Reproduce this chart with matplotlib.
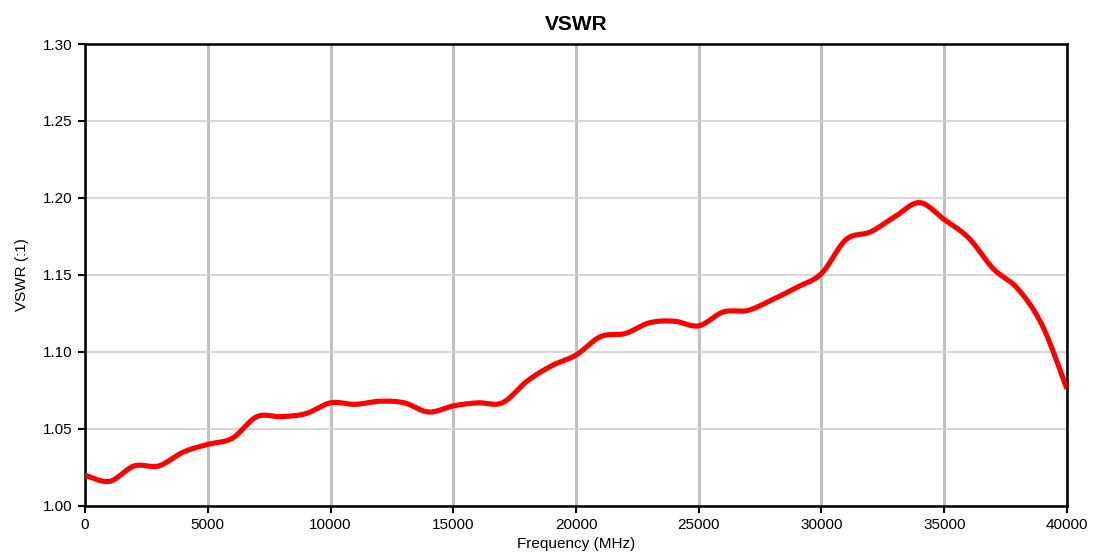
import numpy as np
import matplotlib.pyplot as plt

freq = [0, 1000, 2000, 3000, 4000, 5000, 6000, 7000, 8000, 9000,
        10000, 11000, 12000, 13000, 14000, 15000, 16000, 17000, 18000, 19000,
        20000, 21000, 22000, 23000, 24000, 25000, 26000, 27000, 28000, 29000,
        30000, 31000, 32000, 33000, 34000, 35000, 36000, 37000, 38000, 39000,
        40000]
vswr = [1.020, 1.016, 1.026, 1.026, 1.035, 1.040, 1.044, 1.058, 1.058, 1.060,
        1.067, 1.066, 1.068, 1.067, 1.061, 1.065, 1.067, 1.067, 1.081, 1.091,
        1.098, 1.110, 1.112, 1.119, 1.120, 1.117, 1.126, 1.127, 1.134, 1.142,
        1.151, 1.173, 1.178, 1.188, 1.197, 1.186, 1.174, 1.154, 1.141, 1.117,
        1.076]


def smooth(x, y, n=30):
    # catmull-rom like excel's smoothed line
    x = np.asarray(x, float)
    y = np.asarray(y, float)
    px = np.concatenate([[x[0]], x, [x[-1]]])
    py = np.concatenate([[y[0]], y, [y[-1]]])
    xs, ys = [], []
    for i in range(1, len(px) - 2):
        p0, p1, p2, p3 = px[i-1], px[i], px[i+1], px[i+2]
        q0, q1, q2, q3 = py[i-1], py[i], py[i+1], py[i+2]
        c1x, c1y = p1 + (p2 - p0) / 6, q1 + (q2 - q0) / 6
        c2x, c2y = p2 - (p3 - p1) / 6, q2 - (q3 - q1) / 6
        t = np.linspace(0, 1, n, endpoint=False)
        a, b, c, d = (1-t)**3, 3*(1-t)**2*t, 3*(1-t)*t**2, t**3
        xs.append(a*p1 + b*c1x + c*c2x + d*p2)
        ys.append(a*q1 + b*c1y + c*c2y + d*q2)
    xs.append([x[-1]])
    ys.append([y[-1]])
    return np.concatenate(xs), np.concatenate(ys)


plt.rcParams['font.family'] = ['Liberation Sans', 'DejaVu Sans']

fig = plt.figure(figsize=(10.93, 5.57), dpi=100)
ax = fig.add_axes([0.0778, 0.0916, 0.8984, 0.8294])

sx, sy = smooth(freq, vswr)
ax.plot(sx, sy, color='#ff0000', lw=3.7, solid_capstyle='butt', zorder=3)

ax.set_xlim(0, 40000)
ax.set_ylim(1.0, 1.3)
ax.set_xticks(range(0, 40001, 5000))
ax.set_yticks(np.arange(1.0, 1.301, 0.05))
ax.set_yticklabels(['%.2f' % v for v in np.arange(1.0, 1.301, 0.05)])
ax.xaxis.grid(True, color='#c0c0c0', lw=2.2)
ax.yaxis.grid(True, color='#d0d0d0', lw=1.2)
ax.set_axisbelow(True)
for s in ax.spines.values():
    s.set_linewidth(1.8)
ax.tick_params(direction='out', length=5, width=1.5, labelsize=11, pad=4)

ax.set_title('VSWR', fontsize=15, fontweight='bold', pad=10)
ax.set_xlabel('Frequency (MHz)', fontsize=11, labelpad=3)
ax.set_ylabel('VSWR (:1)', fontsize=11, labelpad=10)

plt.savefig('out.png')
